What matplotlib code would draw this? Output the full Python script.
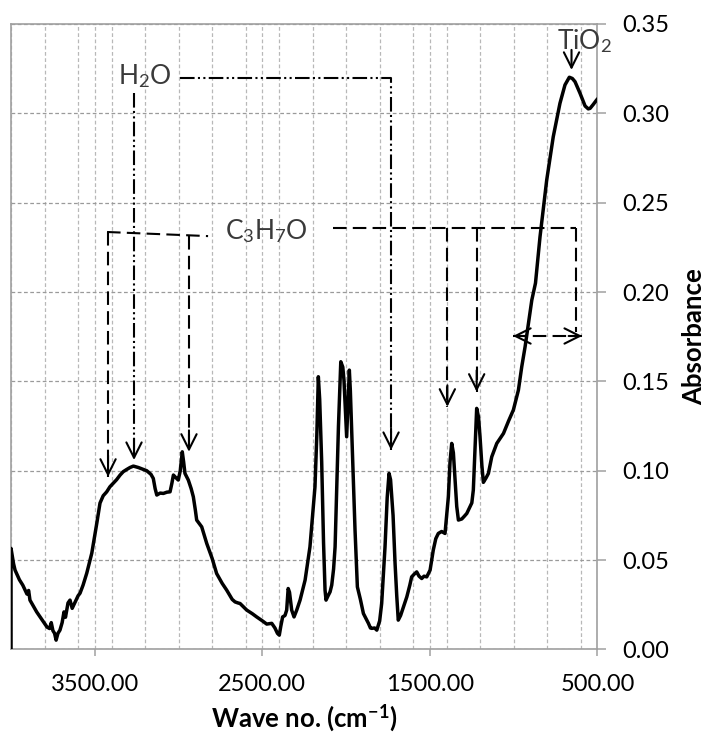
import matplotlib
matplotlib.use("Agg")
import matplotlib.pyplot as plt
from matplotlib.ticker import MultipleLocator, FormatStrFormatter

plt.rcParams['font.family'] = ['Lato', 'DejaVu Sans']
plt.rcParams['mathtext.fontset'] = 'custom'
plt.rcParams['mathtext.rm'] = 'Lato'
plt.rcParams['mathtext.it'] = 'Lato:italic'
plt.rcParams['mathtext.bf'] = 'Lato:bold'

# FTIR spectrum
wave = [4000, 4000, 3985, 3976, 3950, 3930, 3916, 3905, 3895, 3887, 3865, 3847, 3825, 3807,
        3785, 3770, 3760, 3750, 3740, 3731, 3720, 3708, 3695, 3684, 3675, 3660, 3648, 3635,
        3620, 3600, 3588, 3570, 3548, 3518, 3500, 3488, 3469, 3450, 3429, 3410, 3389, 3370,
        3349, 3330, 3310, 3290, 3270, 3240, 3210, 3190, 3165, 3151, 3140, 3130, 3110, 3091,
        3070, 3051, 3040, 3031, 3015, 3002, 2990, 2978, 2970, 2962, 2942, 2925, 2912, 2900,
        2892, 2862, 2832, 2800, 2773, 2740, 2713, 2680, 2663, 2645, 2633, 2593, 2560, 2534,
        2500, 2474, 2444, 2425, 2410, 2399, 2390, 2379, 2365, 2355, 2346, 2338, 2325, 2311,
        2295, 2275, 2245, 2216, 2200, 2186, 2175, 2166, 2158, 2146, 2135, 2126, 2120, 2108,
        2096, 2086, 2075, 2066, 2055, 2046, 2032, 2020, 2013, 2005, 1997, 1990, 1981, 1975,
        1967, 1957, 1947, 1933, 1915, 1897, 1880, 1867, 1855, 1847, 1830, 1817, 1800, 1788,
        1768, 1755, 1744, 1735, 1720, 1708, 1698, 1689, 1675, 1658, 1638, 1620, 1609, 1595,
        1579, 1565, 1549, 1535, 1519, 1499, 1480, 1465, 1450, 1430, 1410, 1400, 1390, 1380,
        1370, 1360, 1350, 1340, 1330, 1310, 1295, 1280, 1261, 1250, 1241, 1232, 1221, 1210,
        1201, 1190, 1181, 1165, 1151, 1131, 1101, 1061, 1030, 1002, 972, 952, 932, 912,
        892, 870, 843, 803, 764, 724, 694, 668, 650, 634, 604, 574, 555, 544, 525, 505, 500]
absorb = [0.0, 0.0565, 0.048, 0.0444, 0.039, 0.036, 0.0332, 0.031, 0.033, 0.0276, 0.024, 0.021, 0.018, 0.0155,
          0.0125, 0.0117, 0.015, 0.0105, 0.009, 0.0052, 0.009, 0.0108, 0.015, 0.021, 0.018, 0.026, 0.0276, 0.023,
          0.026, 0.030, 0.0315, 0.036, 0.0427, 0.0539, 0.064, 0.0707, 0.0819, 0.086, 0.0882, 0.091, 0.0931, 0.095,
          0.0976, 0.0995, 0.1007, 0.1018, 0.1026, 0.1018, 0.1007, 0.100, 0.098, 0.0957, 0.090, 0.0864, 0.0875, 0.0873,
          0.088, 0.0882, 0.093, 0.0976, 0.096, 0.0948, 0.100, 0.1106, 0.105, 0.0985, 0.0948, 0.090, 0.0854, 0.078,
          0.0724, 0.0686, 0.0593, 0.051, 0.0425, 0.037, 0.0332, 0.028, 0.0266, 0.026, 0.0257, 0.022, 0.020, 0.0182,
          0.016, 0.0142, 0.0146, 0.012, 0.009, 0.008, 0.013, 0.0182, 0.019, 0.022, 0.0341, 0.032, 0.022, 0.0182,
          0.022, 0.0276, 0.0388, 0.0574, 0.075, 0.091, 0.120, 0.1526, 0.140, 0.105, 0.060, 0.0332, 0.0276, 0.030,
          0.0322, 0.036, 0.045, 0.0574, 0.095, 0.1246, 0.161, 0.158, 0.1507, 0.135, 0.119, 0.135, 0.1563, 0.145,
          0.1227, 0.095, 0.0668, 0.035, 0.028, 0.0201, 0.017, 0.0146, 0.012, 0.0118, 0.012, 0.0108, 0.016, 0.0257,
          0.0574, 0.085, 0.0985, 0.095, 0.075, 0.048, 0.030, 0.0164, 0.019, 0.0238, 0.0294, 0.036, 0.0406, 0.042,
          0.0434, 0.041, 0.0397, 0.041, 0.0406, 0.0444, 0.0556, 0.062, 0.0649, 0.066, 0.0649, 0.075, 0.0854, 0.105,
          0.1153, 0.110, 0.0948, 0.080, 0.0724, 0.073, 0.0745, 0.0761, 0.0798, 0.082, 0.0892, 0.110, 0.1349, 0.130,
          0.119, 0.103, 0.0935, 0.096, 0.0985, 0.1078, 0.1153, 0.1209, 0.128, 0.134, 0.1451, 0.1582, 0.1694, 0.1825,
          0.1955, 0.205, 0.2309, 0.2627, 0.2869, 0.3056, 0.3159, 0.3202, 0.3195, 0.3177, 0.3112, 0.3041, 0.3025, 0.3028, 0.305, 0.3075, 0.308]

# annotation anchor points (wave no., absorbance)
h2o_label = (3200, 0.3162)
h2o_line_y = 0.3198
h2o_right_x = 1732
h2o_right_tip = 0.1116
h2o_left_x = 3266
h2o_left_tip = 0.106

c3_label = (2474, 0.2295)
c3_left = [(3427, 0.2336), (2824, 0.2313)]
c3_left_arrows = [(3421, 0.2334, 0.0966), (2938, 0.2316, 0.1106)]
c3_right_y = 0.2361
c3_right_x = [2078, 630]
c3_right_arrows = [(1396, 0.1358), (1221, 0.1442)]
c3_drop_x = 630
c3_drop_end = 0.1775
double_arrow = (1004, 592, 0.1754)

tio2_label = (580, 0.3359)
tio2_arrow = (655, 0.3355, 0.3243)

fig = plt.figure(figsize=(7.07, 7.38), dpi=100)
ax = fig.add_axes([0.0156, 0.120, 0.8295, 0.8475])

ax.plot(wave, absorb, color='black', lw=2.5, solid_joinstyle='round', zorder=5)

ax.set_xlim(4000, 500)
ax.set_ylim(0, 0.35)
ax.xaxis.set_minor_locator(MultipleLocator(200))
ax.xaxis.set_major_formatter(FormatStrFormatter('%.2f'))
ax.yaxis.set_major_locator(MultipleLocator(0.05))
ax.yaxis.set_major_formatter(FormatStrFormatter('%.2f'))
ax.set_xticks([3500, 2500, 1500, 500])

ax.grid(which='both', axis='x', color='#b8b8b8', ls=(0, (3, 2)), lw=0.9)
ax.grid(which='major', axis='y', color='#9a9a9a', ls=(0, (3, 2)), lw=0.9)
ax.set_axisbelow(True)

for s in ax.spines.values():
    s.set_color('#a0a0a0')
    s.set_linewidth(1.2)

ax.yaxis.tick_right()
ax.tick_params(axis='y', which='major', direction='out', length=6.5, width=1.1,
               color='#a0a0a0', labelsize=17, pad=11)
ax.tick_params(axis='x', which='major', direction='out', length=5, width=1.1,
               color='#a0a0a0', labelsize=17, pad=13)
ax.tick_params(axis='x', which='minor', length=0)

ax.set_xlabel('Wave no. (cm$^{\\mathbf{-1}}$)', fontsize=18.5, fontweight='bold')
ax.xaxis.label.set_va('center')
ax.xaxis.set_label_coords(0.5, -0.11)
ax.set_ylabel('Absorbance', fontsize=18.5, fontweight='bold')
ax.yaxis.set_label_position('right')
ax.yaxis.label.set_va('center')
ax.yaxis.label.set_rotation(90)
ax.yaxis.set_label_coords(1.164, 0.5)

# annotation lines
lw_a = 1.5
dashdotdot = (0, (7, 1.6, 1, 1.6, 1, 1.6))
dash = (0, (6.5, 3))
head = dict(arrowstyle='->,head_length=1.1,head_width=0.55', color='black',
            lw=lw_a, shrinkA=0, shrinkB=0, mutation_scale=10)

txt_kw = dict(fontsize=19, color='#3a3a3a', va='baseline', ha='center')
ax.text(h2o_label[0], h2o_label[1], 'H$_2$O', **txt_kw)
ax.text(c3_label[0], c3_label[1], 'C$_3$H$_7$O', **txt_kw)
ax.text(tio2_label[0], tio2_label[1], 'TiO$_2$', clip_on=False, **txt_kw)

# H2O
ax.plot([2991, h2o_right_x, h2o_right_x], [h2o_line_y, h2o_line_y, h2o_right_tip],
        color='black', lw=lw_a, ls=dashdotdot)
ax.plot([h2o_left_x, h2o_left_x], [0.3115, h2o_left_tip], color='black', lw=lw_a, ls=dashdotdot)
for xx, tip in [(h2o_right_x, h2o_right_tip), (h2o_left_x, h2o_left_tip)]:
    ax.annotate('', xy=(xx, tip), xytext=(xx, tip + 0.012), arrowprops=head)

# C3H7O left group
ax.plot([c3_left[0][0], c3_left[1][0]], [c3_left[0][1], c3_left[1][1]], color='black', lw=lw_a, ls=dash)
for xx, top, tip in c3_left_arrows:
    ax.plot([xx, xx], [top, tip], color='black', lw=lw_a, ls=dash)
    ax.annotate('', xy=(xx, tip), xytext=(xx, tip + 0.012), arrowprops=head)

# C3H7O right group
ax.plot(c3_right_x, [c3_right_y, c3_right_y], color='black', lw=lw_a, ls=dash)
for xx, tip in c3_right_arrows:
    ax.plot([xx, xx], [c3_right_y, tip], color='black', lw=lw_a, ls=dash)
    ax.annotate('', xy=(xx, tip), xytext=(xx, tip + 0.012), arrowprops=head)
ax.plot([c3_drop_x, c3_drop_x], [c3_right_y, c3_drop_end], color='black', lw=lw_a, ls=dash)

x1, x2, yy = double_arrow
ax.plot([x1, x2], [yy, yy], color='black', lw=lw_a, ls=dash)
ax.annotate('', xy=(x1, yy), xytext=(x1 - 80, yy), arrowprops=head)
ax.annotate('', xy=(x2, yy), xytext=(x2 + 80, yy), arrowprops=head)

# TiO2
ax.annotate('', xy=(tio2_arrow[0], tio2_arrow[2]), xytext=(tio2_arrow[0], tio2_arrow[1]), arrowprops=head)

fig.savefig('out.png', dpi=100)
